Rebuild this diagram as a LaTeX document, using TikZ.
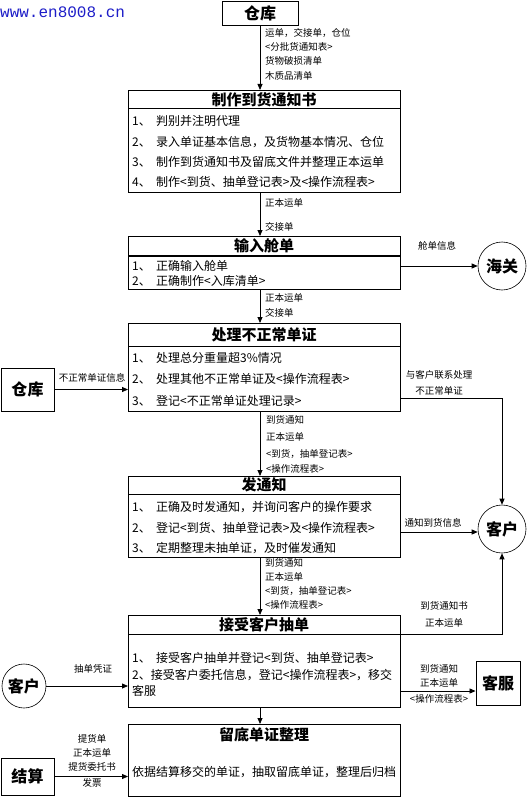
\documentclass[tikz,border=0pt]{standalone}
\usepackage{fontspec}
\setmainfont{Noto Sans CJK SC}
\newfontfamily\wmfont{Liberation Mono}
\usetikzlibrary{arrows.meta,calc}
\definecolor{wmblue}{RGB}{30,30,200}
\newcommand\rowno[1]{\makebox[24pt][l]{#1}}
\begin{document}
\begin{tikzpicture}[x=1pt,y=-1pt,
  box/.style={draw,line width=0.9pt,inner sep=0,anchor=north west,minimum width=272pt},
  sep/.style={line width=0.9pt},
  ttl/.style={inner sep=0,font=\bfseries\fontsize{15}{15}\selectfont},
  rowt/.style={anchor=west,inner sep=0,font=\fontsize{12}{12}\selectfont},
  lbl/.style={anchor=west,inner sep=0,font=\fontsize{9.5}{9.5}\selectfont},
  clbl/.style={inner sep=0,font=\fontsize{9.5}{9.5}\selectfont},
  sq/.style={draw,line width=0.9pt,inner sep=0,font=\bfseries\fontsize{16}{16}\selectfont},
  circ/.style={circle,draw,line width=0.6pt,inner sep=0,font=\bfseries\fontsize{16}{16}\selectfont},
  arr/.style={-{Triangle[length=6pt,width=5pt]},line width=0.8pt}]
\useasboundingbox (0,0) rectangle (531,797);

% watermark
\node[anchor=west,inner sep=0,text=wmblue,font=\wmfont\fontsize{16}{16}\selectfont] (wm) at (0,12) {www.en8008.cn};

% side nodes
\node[sq,minimum width=76pt,minimum height=24pt] (ck1) at (260,13) {仓库};
\node[sq,minimum width=53pt,minimum height=43pt] (ck2) at (27.5,389.5) {仓库};
\node[sq,minimum width=44pt,minimum height=44pt] (kf) at (498,683) {客服};
\node[sq,minimum width=53pt,minimum height=37pt] (js) at (27.5,776.5) {结算};
\node[circ,minimum size=48pt] (hg) at (502,266) {海关};
\node[circ,minimum size=48pt] (kh) at (502,529) {客户};
\node[circ,minimum size=44pt] (kh2) at (24,686) {客户};

% box 1
\node[box,minimum height=102pt] (b1) at (128,90) {};
\draw[sep] ($(b1.north west)+(0,18)$) -- ($(b1.north east)+(0,18)$);
\node[ttl] (t1) at (264,100) {制作到货通知书};
\node[rowt] (r11) at (132,121) {\rowno{1、}判别并注明代理};
\node[rowt] (r12) at (132,142) {\rowno{2、}录入单证基本信息，及货物基本情况、仓位};
\node[rowt] (r13) at (132,162) {\rowno{3、}制作到货通知书及留底文件并整理正本运单};
\node[rowt] (r14) at (132,182) {\rowno{4、}制作<到货、抽单登记表>及<操作流程表>};

% box 2
\node[box,minimum height=53pt] (b2) at (128,236) {};
\draw[line width=1.6pt] ($(b2.north west)+(0,20)$) -- ($(b2.north east)+(0,20)$);
\node[ttl] (t2) at (264,246) {输入舱单};
\node[rowt] (r21) at (132,266) {\rowno{1、}正确输入舱单};
\node[rowt] (r22) at (132,281) {\rowno{2、}正确制作<入库清单>};

% box 3
\node[box,minimum height=88pt] (b3) at (128,323) {};
\draw[sep] ($(b3.north west)+(0,23)$) -- ($(b3.north east)+(0,23)$);
\node[ttl] (t3) at (264,335) {处理不正常单证};
\node[rowt] (r31) at (132,358) {\rowno{1、}处理总分重量超3\%情况};
\node[rowt] (r32) at (132,379) {\rowno{2、}处理其他不正常单证及<操作流程表>};
\node[rowt] (r33) at (132,401) {\rowno{3、}登记<不正常单证处理记录>};

% box 4
\node[box,minimum height=81pt] (b4) at (128,476) {};
\draw[sep] ($(b4.north west)+(0,18)$) -- ($(b4.north east)+(0,18)$);
\node[ttl] (t4) at (264,485) {发通知};
\node[rowt] (r41) at (132,507) {\rowno{1、}正确及时发通知，并询问客户的操作要求};
\node[rowt] (r42) at (132,528) {\rowno{2、}登记<到货、抽单登记表>及<操作流程表>};
\node[rowt] (r43) at (132,548) {\rowno{3、}定期整理未抽单证，及时催发通知};

% box 5
\node[box,minimum height=92pt] (b5) at (128,615) {};
\draw[sep] ($(b5.north west)+(0,19)$) -- ($(b5.north east)+(0,19)$);
\node[ttl] (t5) at (264,625) {接受客户抽单};
\node[rowt] (r51) at (132,658) {\rowno{1、}接受客户抽单并登记<到货、抽单登记表>};
\node[rowt] (r52) at (132,675) {2、接受客户委托信息，登记<操作流程表>，移交};
\node[rowt] (r53) at (132,691) {客服};

% box 6
\node[box,minimum height=72pt] (b6) at (128,724) {};
\node[ttl] (t6) at (264,735) {留底单证整理};
\node[inner sep=0,font=\fontsize{12}{12}\selectfont] (r61) at (264,772) {依据结算移交的单证，抽取留底单证，整理后归档};

% vertical connectors
\draw[arr] (ck1.south) -- (ck1.south |- b1.north);
\draw[arr] (b1.south -| ck1) -- (b2.north -| ck1);
\draw[arr] (b2.south -| ck1) -- (b3.north -| ck1);
\draw[arr] (b3.south -| ck1) -- (b4.north -| ck1);
\draw[arr] (b4.south -| ck1) -- (b5.north -| ck1);
\draw[arr] (b5.south -| ck1) -- (b6.north -| ck1);

% horizontal connectors
\draw[arr] (hg.west -| b2.east) -- (hg.west);
\draw[arr] (ck2.east) -- (ck2.east -| b3.west);
\draw[line width=0.8pt] ($(b3.south east)+(0,-14)$) -| ($(kh.north)+(0,-30)$);
\draw[arr] ($(kh.north)+(0,-30)$) -- (kh.north);
\draw[arr] ($(kh.west -| b4.east)+(0,3)$) -- ($(kh.west)+(0,3)$);
\draw[line width=0.8pt] ($(b5.north east)+(0,19)$) -| ($(kh.south)+(0,40)$);
\draw[arr] ($(kh.south)+(0,40)$) -- (kh.south);
\draw[arr] (kh2.east) -- (kh2.east -| b5.west);
\draw[arr] ($(kf.west -| b5.east)+(0,8)$) -- ($(kf.west)+(0,8)$);
\draw[arr] (js.east) -- (js.east -| b6.west);

% labels
\node[lbl] (l01) at (265,33) {运单，交接单，仓位};
\node[lbl] (l02) at (265,47) {<分批货通知表>};
\node[lbl] (l03) at (265,61) {货物破损清单};
\node[lbl] (l04) at (265,76) {木质品清单};
\node[lbl] (l11) at (265,203) {正本运单};
\node[lbl] (l12) at (265,227) {交接单};
\node[clbl] (lhg) at (437,246) {舱单信息};
\node[lbl] (l21) at (265,298) {正本运单};
\node[lbl] (l22) at (265,313) {交接单};
\node[clbl] (lck2) at (92,378) {不正常单证信息};
\node[clbl] (lr31) at (439,375) {与客户联系处理};
\node[clbl] (lr32) at (439,391) {不正常单证};
\node[lbl] (l31) at (266,420) {到货通知};
\node[lbl] (l32) at (266,437) {正本运单};
\node[lbl] (l33) at (266,454) {<到货，抽单登记表>};
\node[lbl] (l34) at (266,469) {<操作流程表>};
\node[clbl] (lkh) at (433,523) {通知到货信息};
\node[lbl] (l41) at (265,563) {到货通知};
\node[lbl] (l42) at (265,577) {正本运单};
\node[lbl] (l43) at (265,591) {<到货，抽单登记表>};
\node[lbl] (l44) at (265,605) {<操作流程表>};
\node[clbl] (lr51) at (444,606) {到货通知书};
\node[clbl] (lr52) at (444,623) {正本运单};
\node[clbl] (lkh2) at (93,669) {抽单凭证};
\node[clbl] (lkf1) at (439,669) {到货通知};
\node[clbl] (lkf2) at (439,683) {正本运单};
\node[clbl] (lkf3) at (439,699) {<操作流程表>};
\node[clbl] (ljs1) at (92,739) {提货单};
\node[clbl] (ljs2) at (92,753) {正本运单};
\node[clbl] (ljs3) at (92,767) {提货委托书};
\node[clbl] (ljs4) at (92,783) {发票};
\end{tikzpicture}
\end{document}
